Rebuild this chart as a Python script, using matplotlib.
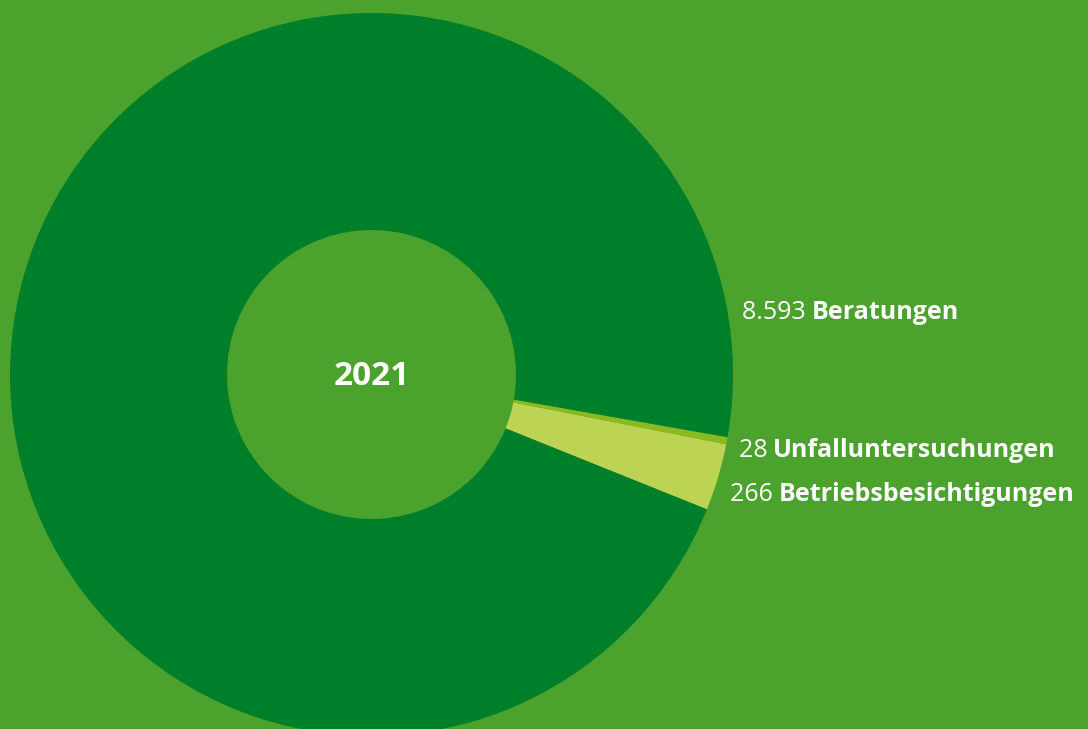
import matplotlib.pyplot as plt

# data
labels = ["Betriebsbesichtigungen", "Unfalluntersuchungen", "Beratungen"]
values = [266, 28, 8593]
value_texts = ["266", "28", "8.593"]
year = "2021"

colors = ["#bdd353", "#8aba1f", "#007f2a"]
bg = "#4ba22d"

W, H = 1088, 729
fig = plt.figure(figsize=(W / 100, H / 100), dpi=100, facecolor=bg)
ax = fig.add_axes([0, 0, 1, 1])
ax.set_facecolor(bg)

cx, cy = 371.5, H - 374.5
R = 361.5
r_in = 144.5

ax.pie(values, colors=colors, startangle=-21.9, center=(cx, cy), radius=R,
       wedgeprops=dict(width=R - r_in, linewidth=0), frame=True)
ax.set_xlim(0, W)
ax.set_ylim(0, H)
ax.set_aspect("equal")
ax.axis("off")

plt.rcParams["font.family"] = ["Open Sans", "DejaVu Sans"]

ax.text(cx, H - 376, year, ha="center", va="center", fontsize=24,
        fontweight="bold", color="white")

# label positions (x start, baseline) in pixels from top-left
label_pos = {"Beratungen": (742, 319), "Unfalluntersuchungen": (739, 457),
             "Betriebsbesichtigungen": (730, 501)}

fig.canvas.draw()
renderer = fig.canvas.get_renderer()
for lab, vt in zip(labels, value_texts):
    x, y = label_pos[lab]
    t = ax.text(x, H - y, vt + " ", ha="left", va="baseline", fontsize=18,
                fontweight="normal", color="white")
    bb = t.get_window_extent(renderer)
    x2 = ax.transData.inverted().transform((bb.x1, 0))[0] - 1
    ax.text(x2, H - y, lab, ha="left", va="baseline", fontsize=18,
            fontweight="bold", color="white")

fig.savefig("out.png", dpi=100, facecolor=bg)
